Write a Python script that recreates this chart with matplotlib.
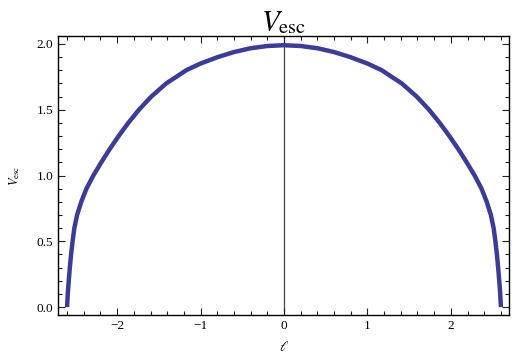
import matplotlib.pyplot as plt
from matplotlib.ticker import MultipleLocator

plt.rcParams['font.family'] = ['Liberation Serif', 'DejaVu Serif']
plt.rcParams['mathtext.fontset'] = 'stix'

# values (left half, then right half)
ell_left = [-2.600, -2.592, -2.580, -2.567, -2.552, -2.534, -2.513, -2.480,
            -2.430, -2.368, -2.285, -2.190, -2.090, -1.982, -1.866, -1.738,
            -1.590, -1.411, -1.290, -1.172, -1.003, -0.793, -0.600, -0.400,
            -0.200, 0.000]
v_left = [0.000, 0.100, 0.200, 0.300, 0.400, 0.500, 0.600, 0.700,
          0.800, 0.900, 1.000, 1.100, 1.200, 1.300, 1.400, 1.500,
          1.600, 1.700, 1.750, 1.800, 1.850, 1.900, 1.938, 1.967,
          1.984, 1.990]
ell_right = [0.200, 0.400, 0.600, 0.793, 1.003, 1.172, 1.290, 1.411,
             1.590, 1.738, 1.866, 1.982, 2.090, 2.190, 2.285, 2.368,
             2.430, 2.480, 2.513, 2.534, 2.552, 2.567, 2.580, 2.592, 2.600]
v_right = [1.984, 1.967, 1.938, 1.900, 1.850, 1.800, 1.750, 1.700,
           1.600, 1.500, 1.400, 1.300, 1.200, 1.100, 1.000, 0.900,
           0.800, 0.700, 0.600, 0.500, 0.400, 0.300, 0.200, 0.100, 0.000]

ell = ell_left + ell_right
v_esc = v_left + v_right

fig = plt.figure(figsize=(5.17, 3.6), dpi=100)
ax = fig.add_axes([0.112, 0.125, 0.873, 0.775])

ax.axvline(0, color='#444444', lw=0.9, zorder=1)
ax.plot(ell, v_esc, color='#3c3c96', lw=3.2, solid_capstyle='butt',
        solid_joinstyle='round', zorder=2)

ax.set_xlim(-2.71, 2.70)
ax.set_ylim(-0.06, 2.06)
ax.xaxis.set_major_locator(MultipleLocator(1))
ax.xaxis.set_minor_locator(MultipleLocator(0.2))
ax.yaxis.set_major_locator(MultipleLocator(0.5))
ax.yaxis.set_minor_locator(MultipleLocator(0.1))
ax.set_yticks([0, 0.5, 1.0, 1.5, 2.0])
ax.set_yticklabels(['0.0', '0.5', '1.0', '1.5', '2.0'])
ax.set_xticks([-2, -1, 0, 1, 2])
ax.set_xticklabels(['\u22122', '\u22121', '0', '1', '2'])
ax.tick_params(which='both', direction='in', top=True, right=True,
               labelsize=9.5, width=0.8, color='#222222')
ax.tick_params(which='major', length=5)
ax.tick_params(which='minor', length=3)
for s in ax.spines.values():
    s.set_linewidth(1.0)

ax.set_title(r'$V_{\rm esc}$', fontsize=21, pad=1)
ax.set_ylabel(r'$V_{\rm esc}$', fontsize=9, labelpad=10)
ax.set_xlabel(r'$\ell$', fontsize=10, labelpad=6)

fig.savefig('out.png', dpi=100)
